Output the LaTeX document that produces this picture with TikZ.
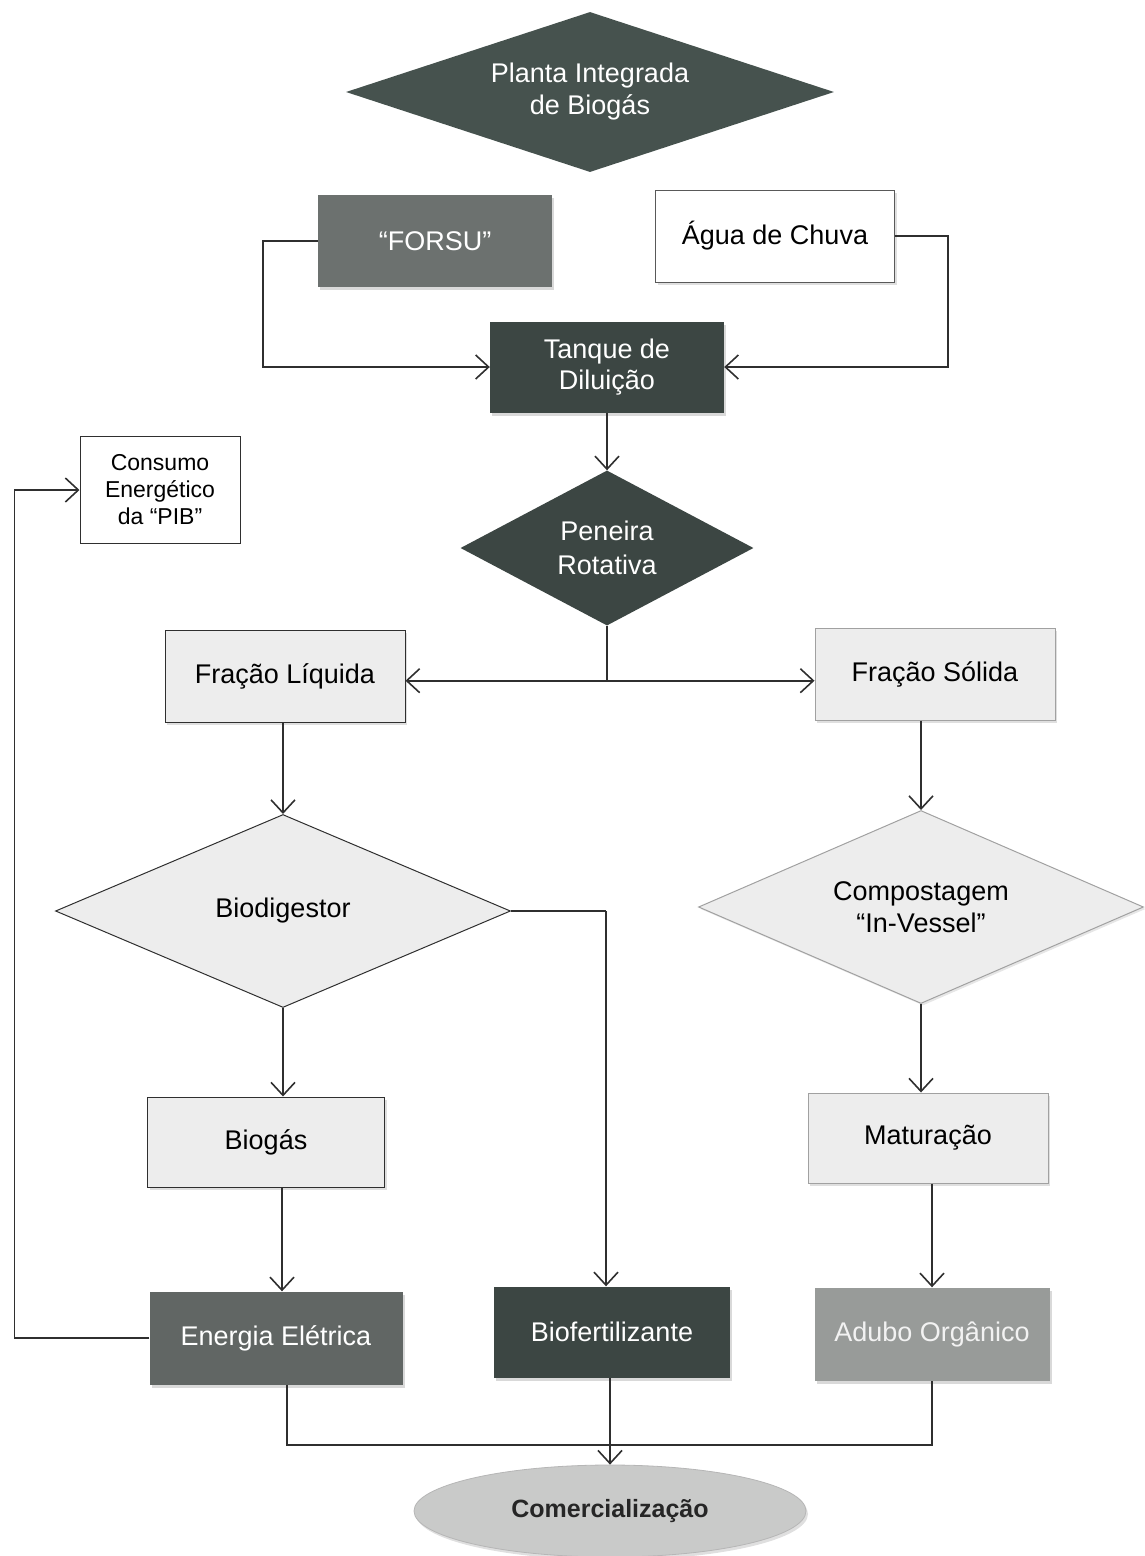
\documentclass[tikz,border=0pt]{standalone}
\usepackage{fontspec}
\setmainfont{Liberation Sans}
\usetikzlibrary{shapes.geometric,arrows.meta,shadows}
\definecolor{linecol}{HTML}{2F2F2F}
\definecolor{darkfill}{HTML}{3C4643}
\definecolor{topfill}{HTML}{46524E}
\definecolor{midfill}{HTML}{6C716F}
\definecolor{enfill}{HTML}{616664}
\definecolor{adfill}{HTML}{989B99}
\definecolor{lightfill}{HTML}{EDEDED}
\definecolor{comfill}{HTML}{C9CAC9}
\definecolor{adtext}{HTML}{F2F2F2}
\begin{document}
\begin{tikzpicture}[x=1pt,y=-1pt,
  txt/.style={font=\fontsize{27}{32}\selectfont, align=center, inner sep=0pt},
  boxnode/.style={txt, rectangle, minimum width=#1, minimum height=92pt},
  boxnode/.default=236pt,
  lightbox/.style={boxnode=#1, fill=lightfill, draw=linecol, line width=1pt,
    drop shadow={shadow xshift=2pt, shadow yshift=-3pt, opacity=.25}},
  lightbox/.default=238pt,
  darkbox/.style={boxnode=#1, fill=darkfill, text=white,
    drop shadow={shadow xshift=2pt, shadow yshift=-3pt, opacity=.3}},
  darkbox/.default=236pt,
  dia/.style={txt, diamond, inner sep=0pt},
  link/.style={draw=linecol, line width=1.6pt},
  conn/.style={link, -{Straight Barb[length=13pt,width=24pt,line width=1.6pt]}}
]
\useasboundingbox (0,0) rectangle (1144,1556);

% top
\node[dia, fill=topfill, text=white, minimum width=488pt, minimum height=160pt, aspect=3]
  (planta) at (590,92) {Planta Integrada\\de Biogás};

\node[darkbox=234pt, fill=midfill] (forsu) at (435,241) {“FORSU”};
\node[lightbox=239pt, fill=white, draw=linecol!80, drop shadow={opacity=0}] (agua) at (775,236) {Água de Chuva};
\node[darkbox=234pt, minimum height=91pt, font=\fontsize{27}{31}\selectfont] (tanque) at (607,367) {Tanque de\\Diluição};

\node[txt, rectangle, draw=linecol, line width=1pt, fill=white, minimum width=160pt, minimum height=107pt,
  font=\fontsize{23}{27}\selectfont] (consumo) at (160,490) {Consumo\\Energético\\da “PIB”};

\node[dia, fill=darkfill, text=white, minimum width=293pt, minimum height=155pt, aspect=1.9,
  font=\fontsize{27}{34}\selectfont] (peneira) at (607,548) {Peneira\\Rotativa};

\node[lightbox=240pt] (fliq) at (285,676) {Fração Líquida};
\node[lightbox=240pt, draw=linecol!45] (fsol) at (935,674) {Fração Sólida};

\node[dia, fill=lightfill, draw=linecol, line width=1pt, minimum width=455pt, minimum height=193pt, aspect=2.35]
  (biodig) at (283,911) {Biodigestor};
\node[dia, fill=lightfill, draw=linecol!45, line width=1pt, minimum width=445pt, minimum height=193pt, aspect=2.3,
  drop shadow={shadow xshift=2pt, shadow yshift=-2pt, opacity=.2}]
  (compost) at (921,907) {Compostagem\\“In-Vessel”};

\node[lightbox=237pt, minimum height=90pt] (biogas) at (266,1142) {Biogás};
\node[lightbox=240pt, minimum height=90pt, draw=linecol!45] (matur) at (928,1138) {Maturação};

\node[darkbox=253pt, minimum height=93pt, fill=enfill] (energia) at (276,1338) {Energia Elétrica};
\node[darkbox=236pt, minimum height=91pt] (biofert) at (612,1332) {Biofertilizante};
\node[darkbox=235pt, minimum height=93pt, fill=adfill, text=adtext] (adubo) at (932,1334) {Adubo Orgânico};

\node[txt, ellipse, fill=comfill, draw=linecol!35, line width=0.8pt, minimum width=392pt, minimum height=92pt,
  font=\bfseries\fontsize{25}{29}\selectfont, text=black!85,
  drop shadow={shadow xshift=2pt, shadow yshift=-3pt, opacity=.25}] (comerc) at (610,1511) {Comercialização};

% connectors
\draw[conn] (forsu.west) -- ++(-55,0) |- (tanque.west);
\draw[conn] (agua.east) -- ++(53,0) |- (tanque.east);
\draw[conn] (tanque.south) -- (peneira.north);

\draw[link] (peneira.south) -- ++(0,55) coordinate (split);
\draw[conn] (split) -- (split -| fliq.east);
\draw[conn] (split) -- (split -| fsol.west);

\draw[conn] (fliq.south -| biodig.north) -- (biodig.north);
\draw[conn] (biodig.south) -- (biodig.south |- biogas.north);
\draw[link] (biodig.east) -- ++(95,0) coordinate (bturn);
\draw[conn] (bturn) -- (bturn |- biofert.north);

\draw[conn] ([xshift=16pt]biogas.south) -- ([xshift=16pt]biogas.south |- energia.north);
\draw[conn] (energia.west) -- ++(-135,0) |- (consumo.west);

\draw[conn] (fsol.south -| compost.north) -- (compost.north);
\draw[conn] (compost.south) -- (compost.south |- matur.north);
\draw[conn] (matur.south -| adubo.north) -- (adubo.north);

\draw[link] ([xshift=11pt]energia.south) -- ++(0,60) coordinate (bl) -- (bl -| adubo.south) -- (adubo.south);
\draw[conn] (biofert.south -| comerc.north) -- (comerc.north);
\end{tikzpicture}
\end{document}
